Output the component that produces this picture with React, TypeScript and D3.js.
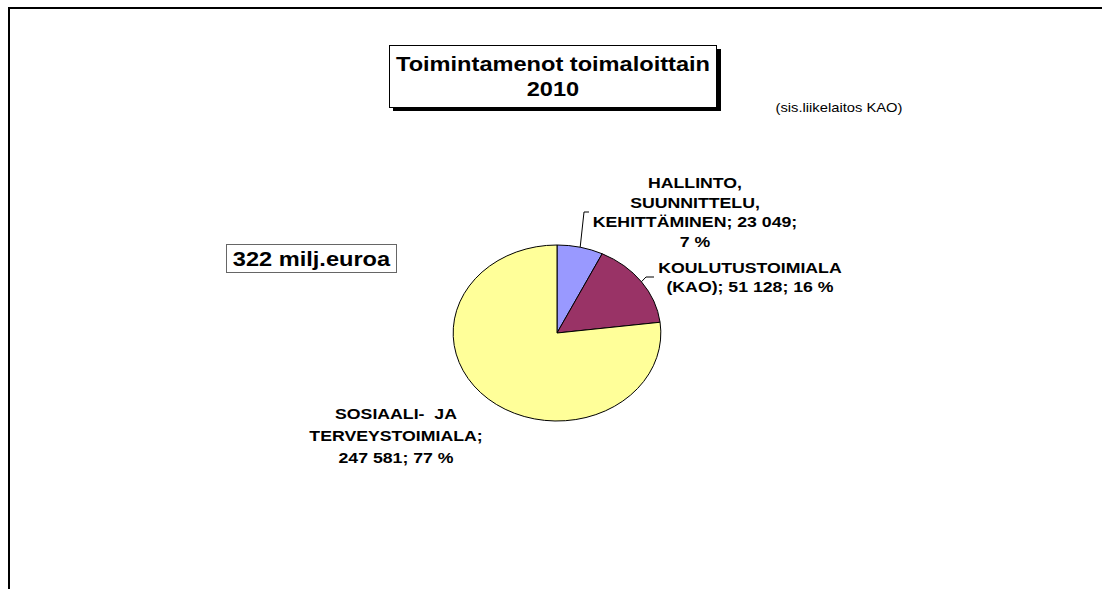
import React from "react";
import * as d3 from "d3";

const categories = [
  "HALLINTO, SUUNNITTELU, KEHITTÄMINEN",
  "KOULUTUSTOIMIALA (KAO)",
  "SOSIAALI- JA TERVEYSTOIMIALA",
];
const values = [23049, 51128, 247581];
const percents = ["7 %", "16 %", "77 %"];
const colors = ["#9999FF", "#993366", "#FFFF99"];
const labelLines: string[][] = [
  ["HALLINTO,", "SUUNNITTELU,", "KEHITTÄMINEN; 23 049;", "7 %"],
  ["KOULUTUSTOIMIALA", "(KAO); 51 128; 16 %"],
  ["SOSIAALI-  JA", "TERVEYSTOIMIALA;", "247 581; 77 %"],
];
const titleLines = ["Toimintamenot toimaloittain", "2010"];
const totalText = "322 milj.euroa";
const noteText = "(sis.liikelaitos KAO)";

const W = 1103;
const H = 589;
const SX = 1.18; // horizontal stretch of the original picture
const FONT = "Arial, 'Liberation Sans', Helvetica, sans-serif";

export default function App() {
  const cx = 557;
  const cy = 333;
  const r = 88;
  const pie = d3
    .pie<number>()
    .sort(null)
    .value((d) => d)
    .startAngle(0)
    .endAngle(2 * Math.PI);
  const arcs = pie(values);
  const arc = d3.arc<d3.PieArcDatum<number>>().innerRadius(0).outerRadius(r);

  const edge = (a: number) => [cx + SX * r * Math.sin(a), cy - r * Math.cos(a)];
  const mid = arcs.map((a) => (a.startAngle + a.endAngle) / 2);
  const e0 = edge(mid[0]);
  const e1 = edge(mid[1]);

  // label anchor positions (real pixel coords): center x, first baseline, line step
  const labelPos = [
    { x: 695, y: 188, step: 19.7 },
    { x: 750, y: 273, step: 19 },
    { x: 396, y: 419, step: 22 },
  ];

  const T = (x: number, y: number, txt: string, size: number, weight: string, key?: string) => (
    <text
      key={key}
      x={x / SX}
      y={y}
      textAnchor="middle"
      fontFamily={FONT}
      fontSize={size}
      fontWeight={weight}
      fill="#000"
      style={{ whiteSpace: "pre" }}
    >
      {txt}
    </text>
  );

  return (
    <div style={{ position: "fixed", left: 0, top: 0, width: W, height: H, background: "#fff" }}>
      <svg width={W} height={H} viewBox={`0 0 ${W} ${H}`}>
        <rect x={0} y={0} width={W} height={H} fill="#fff" />
        {/* frame */}
        <line x1={8} y1={8} x2={1102} y2={8} stroke="#000" strokeWidth={2} />
        <line x1={9} y1={7} x2={9} y2={H} stroke="#000" strokeWidth={2} />

        {/* title box with shadow */}
        <rect x={393} y={49} width={328} height={62} fill="#000" />
        <rect x={389.5} y={45.5} width={327} height={62} fill="#fff" stroke="#000" strokeWidth={1} />

        {/* total box */}
        <rect x={226.5} y={244.5} width={170} height={28} fill="#fff" stroke="#666" strokeWidth={1} />

        {/* pie */}
        <g transform={`translate(${cx},${cy}) scale(${SX},1)`}>
          {arcs.map((a, i) => (
            <path
              key={categories[i]}
              d={arc(a) || ""}
              fill={colors[i]}
              stroke="#000"
              strokeWidth={1}
              vectorEffect="non-scaling-stroke"
            />
          ))}
        </g>

        {/* leader lines */}
        <polyline
          points={`${e0[0]},${e0[1]} 584,212 589,212`}
          fill="none"
          stroke="#000"
          strokeWidth={1}
        />
        <polyline
          points={`${e1[0]},${e1[1]} 646,277 654,277`}
          fill="none"
          stroke="#000"
          strokeWidth={1}
        />

        <g transform={`scale(${SX},1)`}>
          {titleLines.map((t, i) => T(553, 71 + i * 25, t, 20, "bold", "t" + i))}
          {T(311.5, 266, totalText, 20, "bold", "total")}
          {T(839, 112, noteText, 12.5, "normal", "note")}
          {labelLines.map((lines, i) =>
            lines.map((ln, j) =>
              T(labelPos[i].x, labelPos[i].y + j * labelPos[i].step, ln, 15, "bold", `l${i}-${j}` + percents[i])
            )
          )}
        </g>
      </svg>
    </div>
  );
}
